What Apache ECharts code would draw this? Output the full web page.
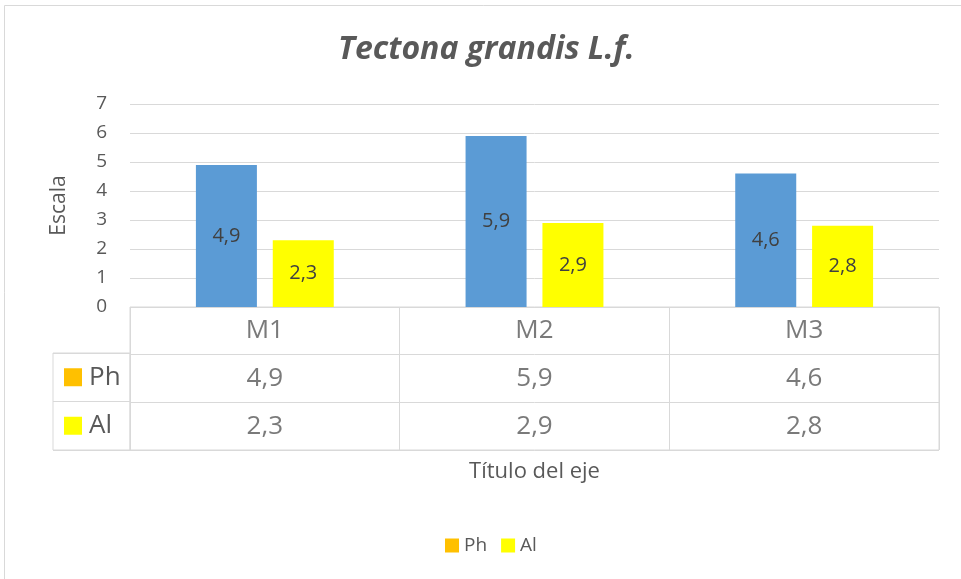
<!DOCTYPE html>
<html>
<head>
<meta charset="utf-8">
<script src="https://cdn.jsdelivr.net/npm/echarts@6/dist/echarts.min.js"></script>
<style>
  html, body { margin: 0; padding: 0; background: #fff; }
  #chart { width: 961px; height: 579px; }
</style>
</head>
<body>
<div id="chart"></div>
<script>
// datos
var categorias = ['M1', 'M2', 'M3']
var seriesNames = ['Ph', 'Al']
var phValues = [4.9, 5.9, 4.6]
var alValues = [2.3, 2.9, 2.8]
var yTicks = [0, 1, 2, 3, 4, 5, 6, 7]

var FONT = 'Open Sans'
var GRIS = '#595959'
var LINEA = '#d9d9d9'
var barColors = ['#5B9BD5', '#FFFF00']
var keyColors = ['#FFC000', '#FFFF00'] // colores de la leyenda

function coma(v) {
  return v.toFixed(1).replace('.', ',')
}

// celdas de la tabla de datos
var tablaData = []
categorias.forEach(function (c, i) {
  tablaData.push({value: [c, 'cab'], txt: c})
  tablaData.push({value: [c, 'Ph'], txt: coma(phValues[i])})
  tablaData.push({value: [c, 'Al'], txt: coma(alValues[i])})
})

var chart = echarts.init(document.getElementById('chart'))

chart.setOption({
  animation: false,
  textStyle: {fontFamily: FONT},
  title: {
    text: 'Tectona grandis L.f.',
    left: 333,
    top: 29,
    textStyle: {fontSize: 32, fontStyle: 'italic', fontWeight: 'bold', color: GRIS, fontFamily: FONT}
  },
  graphic: [{
    type: 'rect',
    shape: {x: 4.5, y: 5.5, width: 1000, height: 1000},
    style: {fill: 'none', stroke: LINEA, lineWidth: 1},
    silent: true
  }],
  legend: {
    data: seriesNames,
    left: 440,
    top: 531,
    icon: 'rect',
    itemWidth: 14,
    itemHeight: 14,
    itemGap: 14,
    textStyle: {fontSize: 19, color: GRIS, fontFamily: FONT}
  },
  grid: [
    {left: 130, right: 22, top: 104, bottom: 272},
    {left: 130, right: 22, top: 307, bottom: 129, show: true, borderColor: LINEA, borderWidth: 1},
    {left: 53, width: 77, top: 353, bottom: 129, show: true, borderColor: LINEA, borderWidth: 1}
  ],
  xAxis: [
    {
      gridIndex: 0, type: 'category', data: categorias,
      axisLine: {show: false}, axisTick: {show: false}, axisLabel: {show: false}
    },
    {
      gridIndex: 1, type: 'category', data: categorias,
      name: 'Título del eje', nameLocation: 'middle', nameGap: 11,
      nameTextStyle: {fontSize: 22, color: GRIS, fontFamily: FONT},
      axisLine: {show: false}, axisTick: {show: false}, axisLabel: {show: false},
      splitLine: {show: true, lineStyle: {color: LINEA, width: 1}}
    },
    {
      gridIndex: 2, type: 'value', show: false
    }
  ],
  yAxis: [
    {
      gridIndex: 0, type: 'value', min: yTicks[0], max: yTicks[yTicks.length - 1], interval: 1,
      name: 'Escala', nameLocation: 'middle', nameRotate: 90, nameGap: 60,
      nameTextStyle: {fontSize: 21, color: GRIS, fontFamily: FONT},
      axisLine: {show: false}, axisTick: {show: false},
      axisLabel: {fontSize: 19, color: GRIS, margin: 23, fontFamily: FONT},
      splitLine: {lineStyle: {color: LINEA, width: 1}}
    },
    {
      gridIndex: 1, type: 'category', data: ['cab', 'Ph', 'Al'], inverse: true,
      axisLine: {show: false}, axisTick: {show: false}, axisLabel: {show: false},
      splitLine: {show: true, lineStyle: {color: LINEA, width: 1}}
    },
    {
      gridIndex: 2, type: 'category', data: seriesNames, inverse: true,
      axisLine: {show: false}, axisTick: {show: false},
      splitLine: {show: true, lineStyle: {color: LINEA, width: 1}},
      axisLabel: {
        inside: true, margin: 11, align: 'left',
        formatter: function (v) {
          return '{k' + v + '|}{t|' + v + '}'
        },
        rich: {
          kPh: {backgroundColor: keyColors[0], width: 18, height: 18},
          kAl: {backgroundColor: keyColors[1], width: 18, height: 18},
          t: {fontSize: 26, color: GRIS, padding: [0, 0, 0, 7], fontFamily: FONT}
        }
      }
    }
  ],
  series: [
    {
      name: 'Ph', type: 'bar', xAxisIndex: 0, yAxisIndex: 0,
      barWidth: 61, barGap: '26%',
      itemStyle: {color: keyColors[0]},
      data: phValues.map(function (v) { return {value: v, itemStyle: {color: barColors[0]}} }),
      label: {
        show: true, position: 'inside', fontSize: 20, color: '#404040', fontFamily: FONT,
        formatter: function (p) { return coma(p.value) }
      }
    },
    {
      name: 'Al', type: 'bar', xAxisIndex: 0, yAxisIndex: 0,
      barWidth: 61, barGap: '26%',
      itemStyle: {color: barColors[1]},
      data: alValues,
      label: {
        show: true, position: 'inside', fontSize: 20, color: '#404040', fontFamily: FONT,
        formatter: function (p) { return coma(p.value) }
      }
    },
    {
      name: 'tabla', type: 'scatter', xAxisIndex: 1, yAxisIndex: 1,
      symbolSize: 0, silent: true,
      data: tablaData,
      label: {
        show: true, position: 'inside', fontSize: 26, color: GRIS, fontFamily: FONT,
        formatter: function (p) { return p.data.txt }
      }
    }
  ]
})
</script>
</body>
</html>
